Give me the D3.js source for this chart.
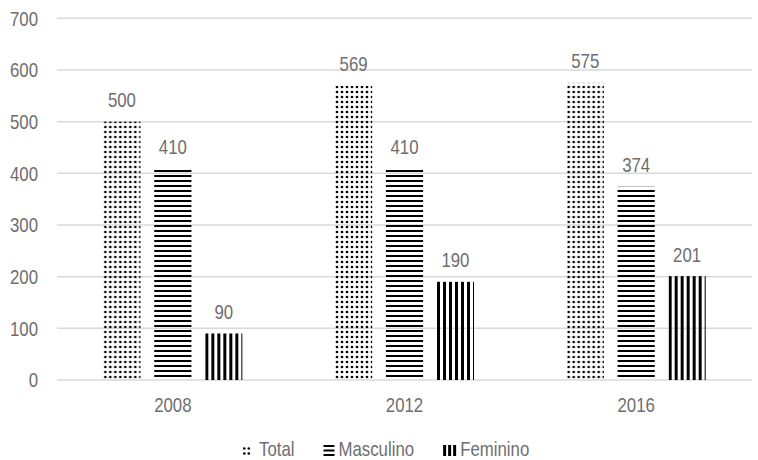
<!DOCTYPE html>
<html>
<head>
<meta charset="utf-8">
<script src="https://cdn.jsdelivr.net/npm/d3@7"></script>
<style>
  html, body { margin: 0; padding: 0; background: #fff; }
  svg { display: block; font-family: "Liberation Sans", Arial, sans-serif; }
</style>
</head>
<body>
<svg id="chart" width="758" height="460"></svg>
<script>
const years = ["2008", "2012", "2016"];
const seriesNames = ["Total", "Masculino", "Feminino"];
const totalValues = [500, 569, 575];
const masculinoValues = [410, 410, 374];
const femininoValues = [90, 190, 201];
const yTicks = [0, 100, 200, 300, 400, 500, 600, 700];

const seriesValues = [totalValues, masculinoValues, femininoValues];
const patternIds = ["pat-dots", "pat-hlines", "pat-vlines"];

const W = 758, H = 460;
const margin = { left: 57, right: 6 };
const TEXT = "#6e6e6e";
const FS = 21;
const svg = d3.select("#chart");

// narrow text (Arial Narrow look): compress glyphs horizontally
function condense(sel) {
  sel.each(function() {
    const w = this.getComputedTextLength();
    d3.select(this).attr("textLength", w * 0.8).attr("lengthAdjust", "spacingAndGlyphs");
  });
}

// patterns
const defs = svg.append("defs");
const pd = defs.append("pattern").attr("id", "pat-dots").attr("patternUnits", "userSpaceOnUse")
  .attr("width", 5).attr("height", 5);
pd.append("circle").attr("cx", 2).attr("cy", 2).attr("r", 1.35).attr("fill", "#000");
const ph = defs.append("pattern").attr("id", "pat-hlines").attr("patternUnits", "userSpaceOnUse")
  .attr("width", 5).attr("height", 5);
ph.append("rect").attr("x", 0).attr("y", 0).attr("width", 5).attr("height", 2).attr("fill", "#000");
const pv = defs.append("pattern").attr("id", "pat-vlines").attr("patternUnits", "userSpaceOnUse")
  .attr("width", 6).attr("height", 6);
pv.append("rect").attr("x", 0).attr("y", 0).attr("width", 3).attr("height", 6).attr("fill", "#000");

const y = d3.scaleLinear().domain([0, 700]).range([380, 18.3]);
const x0 = d3.scaleBand().domain(years).range([margin.left, W - margin.right])
  .paddingInner(0.4).paddingOuter(0.2);
const x1 = d3.scaleBand().domain(seriesNames).range([0, x0.bandwidth()]).paddingInner(0.27);

// gridlines
svg.append("g").selectAll("line").data(yTicks).join("line")
  .attr("x1", margin.left).attr("x2", W - margin.right)
  .attr("y1", d => y(d)).attr("y2", d => y(d))
  .attr("stroke", "#d9d9d9").attr("stroke-width", 1.5);

// y tick labels
const yAxis = d3.axisLeft(y).tickValues(yTicks).tickSize(0).tickPadding(0);
const ya = svg.append("g").attr("transform", "translate(38,0)").call(yAxis);
ya.select(".domain").remove();
ya.selectAll("text").attr("font-size", FS).attr("fill", TEXT).attr("font-family", null).call(condense);

// x axis labels
const xAxis = d3.axisBottom(x0).tickSize(0).tickPadding(0);
const xa = svg.append("g").attr("transform", "translate(0,396)").call(xAxis);
xa.select(".domain").remove();
xa.selectAll("text").attr("font-size", FS).attr("fill", TEXT).attr("font-family", null)
  .attr("dy", "0.75em").call(condense);

// bars
const groups = svg.append("g").selectAll("g").data(years).join("g")
  .attr("transform", d => `translate(${x0(d)},0)`);
groups.each(function(yr, i) {
  const g = d3.select(this);
  seriesNames.forEach((s, j) => {
    const v = seriesValues[j][i];
    g.append("rect")
      .attr("x", x1(s)).attr("width", x1.bandwidth())
      .attr("y", y(v)).attr("height", y(0) - y(v))
      .attr("fill", `url(#${patternIds[j]})`);
    g.append("text")
      .attr("x", x1(s) + x1.bandwidth() / 2)
      .attr("y", y(v) - 14.5)
      .attr("text-anchor", "middle")
      .attr("font-size", FS).attr("fill", TEXT)
      .text(v).call(condense);
  });
});

// legend
const baseY = 456;
const legend = svg.append("g");
const markerW = [7, 11, 13];
const gaps = [9, 4, 4];
let lx = 243;
seriesNames.forEach((s, j) => {
  const mg = legend.append("g").attr("transform", `translate(${lx},0)`);
  if (j === 0) {
    [0, 1].forEach(r => [0, 1].forEach(c =>
      mg.append("circle").attr("cx", 1.3 + c * 4.5).attr("cy", 448.5 + r * 5).attr("r", 1.3).attr("fill", "#000")));
  } else if (j === 1) {
    [0, 1, 2].forEach(k => mg.append("rect").attr("x", 0).attr("y", 445 + k * 4.5)
      .attr("width", 11).attr("height", 2).attr("fill", "#000"));
  } else {
    [0, 1, 2].forEach(k => mg.append("rect").attr("x", k * 5).attr("y", 445)
      .attr("width", 3).attr("height", 11).attr("fill", "#000"));
  }
  const tx = lx + markerW[j] + gaps[j];
  const t = legend.append("text").attr("x", tx).attr("y", baseY)
    .attr("font-size", FS).attr("fill", TEXT).text(s).call(condense);
  const tw = +t.attr("textLength");
  lx = tx + tw + 29;
});
</script>
</body>
</html>
